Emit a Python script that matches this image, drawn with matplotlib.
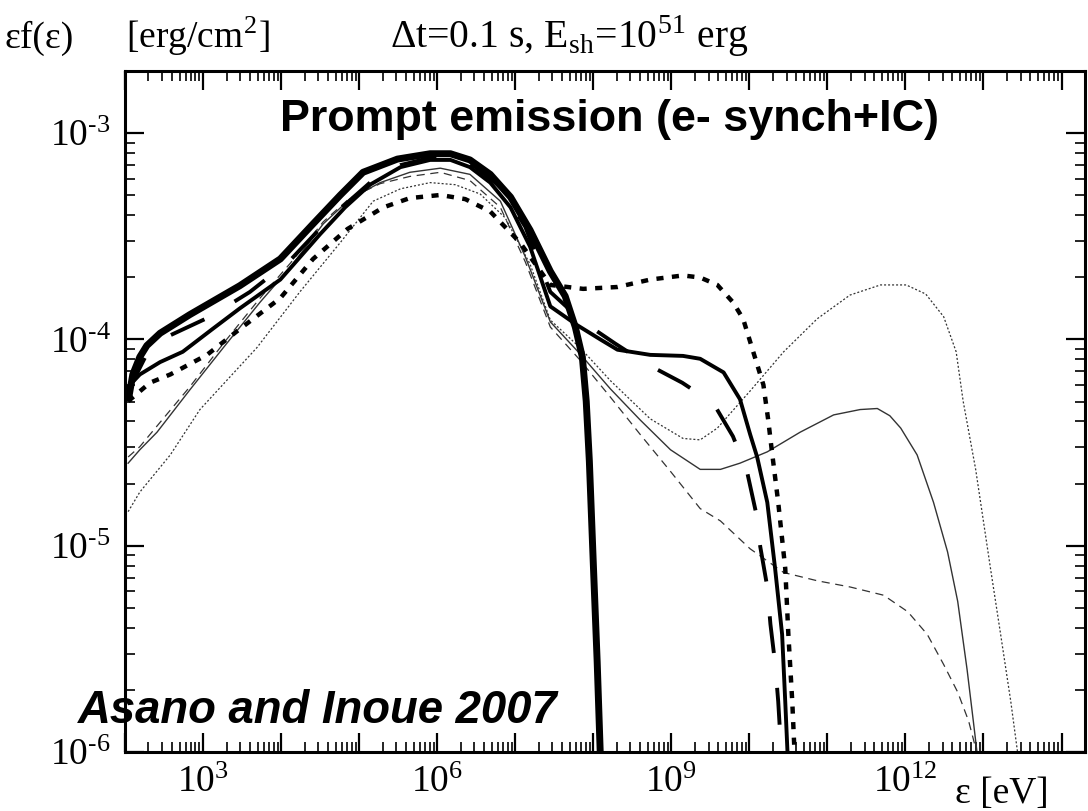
import numpy as np
import matplotlib
matplotlib.use("Agg")
import matplotlib.pyplot as plt
from matplotlib.ticker import LogLocator, FuncFormatter, NullFormatter

plt.rcParams["mathtext.fontset"] = "stix"
plt.rcParams["font.family"] = ["Liberation Serif", "DejaVu Serif"]

# ---- spectra: log10(energy / eV) and log10(eF(e) / erg cm^-2) ----
thick_solid_a_loge = [2.04, 2.10, 2.19, 2.28, 2.45, 2.83, 3.47, 3.99, 4.41, 4.76, 5.05, 5.49,
                      5.91, 6.17, 6.42, 6.68, 6.94, 7.19, 7.45, 7.64, 7.77, 7.86, 7.91, 7.95,
                      8.00, 8.05, 8.09, 8.12]
thick_solid_a_logf = [-4.30, -4.17, -4.085, -4.03, -3.97, -3.88, -3.74, -3.61, -3.44, -3.30, -3.19, -3.126,
                      -3.10, -3.10, -3.13, -3.20, -3.31, -3.47, -3.67, -3.79, -3.94, -4.085, -4.30, -4.59,
                      -5.08, -5.56, -6.01, -6.24]

thick_solid_b_loge = [2.04, 2.19, 2.45, 2.74, 3.12, 3.47, 3.99, 4.50, 4.82, 5.14, 5.53, 5.91,
                      6.17, 6.42, 6.68, 6.94, 7.19, 7.45, 7.79, 8.09, 8.31, 8.73, 9.15, 9.37,
                      9.67, 9.88, 10.01, 10.10, 10.23, 10.33, 10.42, 10.46, 10.49, 10.50]
thick_solid_b_logf = [-4.23, -4.17, -4.11, -4.06, -3.95, -3.85, -3.71, -3.49, -3.36, -3.25, -3.165, -3.13,
                      -3.13, -3.165, -3.24, -3.36, -3.55, -3.84, -3.93, -4.00, -4.05, -4.075, -4.08, -4.094,
                      -4.16, -4.29, -4.46, -4.57, -4.79, -5.11, -5.43, -5.755, -6.01, -6.24]

long_dash_loge = [2.04, 2.26, 2.58, 3.09, 3.60, 4.12, 4.63, 5.14, 5.53, 5.91, 6.17, 6.49,
                  6.81, 7.13, 7.45, 7.87, 8.28, 8.69, 9.14, 9.54, 9.79, 9.97, 10.08, 10.14,
                  10.23, 10.27, 10.33, 10.37, 10.41, 10.42]
long_dash_logf = [-4.25, -4.085, -3.98, -3.89, -3.77, -3.615, -3.41, -3.24, -3.155, -3.12, -3.12, -3.165,
                  -3.26, -3.455, -3.77, -3.915, -4.02, -4.12, -4.21, -4.31, -4.47, -4.64, -4.83, -5.005,
                  -5.20, -5.38, -5.57, -5.755, -6.01, -6.24]

thick_dot_loge = [2.04, 2.32, 2.58, 3.05, 3.47, 3.99, 4.41, 4.85, 5.31, 5.65, 6.04, 6.36,
                  6.68, 7.06, 7.45, 7.87, 8.31, 8.73, 9.15, 9.37, 9.59, 9.79, 9.92, 10.05,
                  10.18, 10.24, 10.29, 10.37, 10.46, 10.50, 10.55, 10.58, 10.59]
thick_dot_logf = [-4.30, -4.21, -4.17, -4.075, -3.95, -3.80, -3.61, -3.465, -3.36, -3.315, -3.30, -3.32,
                  -3.38, -3.53, -3.736, -3.755, -3.746, -3.71, -3.69, -3.70, -3.736, -3.82, -3.90, -4.06,
                  -4.22, -4.385, -4.545, -4.79, -5.11, -5.43, -5.755, -6.01, -6.24]

thin_solid_loge = [2.04, 2.19, 2.41, 2.83, 3.26, 3.73, 4.12, 4.54, 4.88, 5.27, 5.65, 6.04,
                   6.42, 6.81, 7.13, 7.45, 7.83, 8.22, 8.60, 8.99, 9.37, 9.63, 9.88, 10.23,
                   10.65, 11.08, 11.42, 11.64, 11.80, 11.94, 12.15, 12.36, 12.54, 12.67, 12.79,
                   12.87, 12.92, 12.95]
thin_solid_logf = [-4.60, -4.535, -4.45, -4.245, -4.04, -3.82, -3.65, -3.44, -3.32, -3.24, -3.19, -3.17,
                   -3.20, -3.33, -3.60, -3.915, -4.07, -4.24, -4.39, -4.535, -4.63, -4.63, -4.60, -4.545,
                   -4.45, -4.366, -4.34, -4.335, -4.37, -4.43, -4.56, -4.79, -5.03, -5.27, -5.60,
                   -5.85, -6.01, -6.19]

thin_dash_loge = [2.04, 2.19, 2.41, 2.83, 3.26, 3.73, 4.12, 4.54, 4.88, 5.27, 5.65, 6.04,
                  6.42, 6.81, 7.13, 7.45, 7.83, 8.22, 8.60, 8.99, 9.37, 9.63, 10.01, 10.44,
                  10.87, 11.29, 11.72, 12.03, 12.28, 12.49, 12.67, 12.81, 12.92, 12.96]
thin_dash_logf = [-4.57, -4.52, -4.42, -4.23, -4.02, -3.80, -3.63, -3.43, -3.315, -3.245, -3.21, -3.19,
                  -3.23, -3.36, -3.625, -3.94, -4.10, -4.28, -4.46, -4.64, -4.82, -4.88, -5.015, -5.13,
                  -5.17, -5.20, -5.24, -5.32, -5.43, -5.576, -5.71, -5.85, -6.01, -6.19]

thin_dot_loge = [2.04, 2.19, 2.58, 2.96, 3.69, 4.24, 4.76, 5.18, 5.53, 5.91, 6.23, 6.55,
                 6.87, 7.19, 7.45, 7.83, 8.22, 8.73, 9.15, 9.37, 9.59, 10.01, 10.44, 10.87,
                 11.29, 11.68, 12.01, 12.26, 12.49, 12.65, 12.74, 12.90, 13.09, 13.22, 13.35,
                 13.44, 13.46]
thin_dot_logf = [-4.835, -4.74, -4.56, -4.34, -4.04, -3.77, -3.53, -3.33, -3.27, -3.24, -3.25, -3.295,
                 -3.41, -3.635, -3.906, -4.04, -4.20, -4.385, -4.48, -4.487, -4.43, -4.25, -4.06, -3.90,
                 -3.785, -3.736, -3.736, -3.78, -3.89, -4.06, -4.30, -4.63, -5.11, -5.43, -5.755,
                 -6.01, -6.19]

x_label_exponents = [3, 6, 9, 12]

W, H = 1088, 811
fig = plt.figure(figsize=(W / 100, H / 100), dpi=100)
ax = fig.add_axes([125 / W, 1 - 752 / H, (1085 - 125) / W, (752 - 71) / H])
ax.set_xscale("log")
ax.set_yscale("log")
ax.set_xlim(1e2, 2e14)
ax.set_ylim(1e-6, 2e-3)


def draw(loge, logf, **kw):
    ax.plot(10.0 ** np.asarray(loge), 10.0 ** np.asarray(logf), **kw)


ink = "black"
draw(thin_dot_loge, thin_dot_logf, color="#333333", lw=0.9, ls=(0, (1.6, 1.6)))
draw(thin_dash_loge, thin_dash_logf, color="#333333", lw=0.9, ls=(0, (6.5, 4.5)))
draw(thin_solid_loge, thin_solid_logf, color="#333333", lw=1.0, ls="-")
draw(thick_dot_loge, thick_dot_logf, color=ink, lw=3.2, ls=(0, (1.6, 1.9)),
     dash_capstyle="butt")
draw(long_dash_loge, long_dash_logf, color=ink, lw=2.8, ls=(0, (9.5, 9.0)),
     dash_capstyle="butt")
draw(thick_solid_b_loge, thick_solid_b_logf, color=ink, lw=2.8, ls="-")
draw(thick_solid_a_loge, thick_solid_a_logf, color=ink, lw=5.0, ls="-",
     solid_capstyle="butt")

# axes frame and ticks
for s in ax.spines.values():
    s.set_linewidth(2.2)

ax.xaxis.set_major_locator(LogLocator(base=10, numticks=40))
ax.xaxis.set_minor_locator(LogLocator(base=10, subs=np.arange(2, 10), numticks=400))
ax.yaxis.set_major_locator(LogLocator(base=10, numticks=40))
ax.yaxis.set_minor_locator(LogLocator(base=10, subs=np.arange(2, 10), numticks=400))


def power_label(e):
    exp = str(e) if e >= 0 else r"\text{-}" + str(-e)
    return r"$\mathregular{10^{%s}}$" % exp


def xfmt(v, pos):
    e = int(round(np.log10(v)))
    return power_label(e) if e in x_label_exponents else ""


def yfmt(v, pos):
    return power_label(int(round(np.log10(v))))


ax.xaxis.set_major_formatter(FuncFormatter(xfmt))
ax.yaxis.set_major_formatter(FuncFormatter(yfmt))
ax.xaxis.set_minor_formatter(NullFormatter())
ax.yaxis.set_minor_formatter(NullFormatter())
ax.tick_params(which="major", direction="in", length=14, width=1.6,
               top=True, right=True, labelsize=27, pad=10)
ax.tick_params(which="minor", direction="in", length=7, width=1.2,
               top=True, right=True)

# header texts
fig.text(5 / W, 1 - 48 / H, r"εf(ε)", fontsize=27, va="baseline", ha="left")
fig.text(126 / W, 1 - 48 / H, r"[erg/cm$^{\mathregular{2}}$]", fontsize=27,
         va="baseline", ha="left")
fig.text(390 / W, 1 - 48 / H,
         r"Δt=0.1 s, E$_{\mathregular{sh}}$=10$^{\mathregular{51}}$ erg",
         fontsize=28.5, va="baseline", ha="left")
fig.text(955 / W, 1 - 803 / H, "ε [eV]", fontsize=27, va="baseline", ha="left")

# annotations
fig.text(280 / W, 1 - 131 / H, "Prompt emission (e- synch+IC)",
         family="Liberation Sans", weight="bold", fontsize=32.3,
         va="baseline", ha="left")
fig.text(78 / W, 1 - 723 / H, "Asano and Inoue 2007",
         family="Liberation Sans", weight="bold", style="italic", fontsize=32.8,
         va="baseline", ha="left")

fig.savefig("out.png", dpi=100)
